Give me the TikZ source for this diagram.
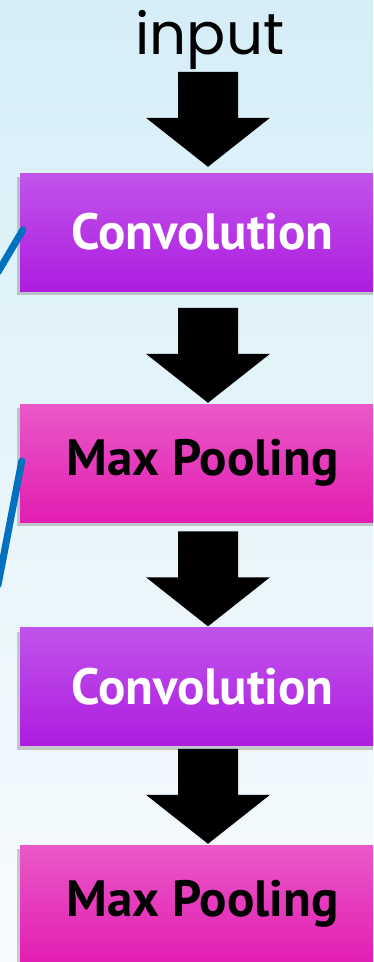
\documentclass[tikz,border=0pt]{standalone}
\usepackage{fontspec}
\setmainfont{PT Sans}
\newfontfamily\titlefont{Poppins}
\usetikzlibrary{shadows}

\definecolor{convtop}{RGB}{192,84,234}
\definecolor{convbot}{RGB}{174,28,224}
\definecolor{pooltop}{RGB}{234,88,200}
\definecolor{poolbot}{RGB}{226,30,178}
\definecolor{bgtop}{RGB}{214,238,248}
\definecolor{bgbot}{RGB}{247,251,254}
\definecolor{linkblue}{RGB}{0,112,192}

\tikzset{
  layer/.style={minimum width=365pt, minimum height=118pt, inner sep=0pt,
    font=\bfseries\fontsize{51}{60}\selectfont,
    drop shadow={shadow xshift=-3pt, shadow yshift=-4pt, opacity=0.4}},
  convlayer/.style={layer, top color=convtop, bottom color=convbot, text=white},
  poollayer/.style={layer, top color=pooltop, bottom color=poolbot, text=black},
  % tip at the origin, shaft going up
  blockarrow/.pic={
    \fill (0,0) -- (62,-49) -- (30,-49) -- (30,-95) -- (-30,-95) -- (-30,-49) -- (-62,-49) -- cycle;
  }
}

\begin{document}
\begin{tikzpicture}[x=1pt,y=-1pt]
  \shade[top color=bgtop,bottom color=bgbot] (0,0) rectangle (373,962);
  \useasboundingbox (0,0) rectangle (373,962);
  \clip (0,0) rectangle (373,962);

  \node[anchor=base,font=\titlefont\fontsize{58}{60}\selectfont] (input) at (210,54) {input};

  % the layers
  \node[convlayer] (conv1) at (202.5,232) {Convolution};
  \node[poollayer] (pool1) at (202.5,463) {Max Pooling};
  \node[convlayer] (conv2) at (202.5,686.5) {Convolution};
  \node[poollayer] (pool2) at (202.5,904) {Max Pooling};

  % arrows between them
  \pic at ([xshift=5.5pt,yshift=6pt]conv1.north) {blockarrow};
  \foreach \nxt in {pool1,conv2,pool2}
    \pic at ([xshift=5.5pt,yshift=1pt]\nxt.north) {blockarrow};

  % links coming in from the left
  \coordinate (link1) at (-2,272);
  \coordinate (link2) at (-2,585);
  \draw[linkblue,line width=7pt,line cap=round] (link1) -- ([xshift=3pt,yshift=2pt]conv1.west);
  \draw[linkblue,line width=7pt,line cap=round] (link2) -- ([xshift=2pt,yshift=2pt]pool1.west);
\end{tikzpicture}
\end{document}
